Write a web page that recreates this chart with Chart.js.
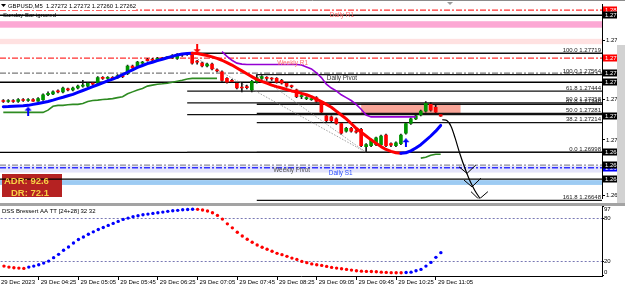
<!DOCTYPE html>
<html>
<head>
<meta charset="utf-8">
<title>GBPUSD M5</title>
<script src="https://cdn.jsdelivr.net/npm/chart.js@4.4.1/dist/chart.umd.min.js"></script>
<style>
  body { margin: 0; background: #fff; }
  #box { position: relative; width: 625px; height: 288px; overflow: hidden; background: #fff; }
  canvas { position: absolute; left: 0; }
  #main { top: 0; }
  #osc { top: 206px; }
  #split { position: absolute; left: 0; top: 203px; width: 625px; height: 3px; background: #a3a3a3; }
</style>
</head>
<body>
<div id="box">
  <canvas id="main" width="625" height="203"></canvas>
  <div id="split"></div>
  <canvas id="osc" width="625" height="82"></canvas>
</div>
<script>
// GBPUSD M5, 29 Dec 2023 - bars 03:50 .. 11:10 (bar index 0..88)
const barOpen = [
  1.27375, 1.27368, 1.27375, 1.27368, 1.27382, 1.27375, 1.27382, 1.27371, 1.27382, 1.27417,
  1.27424, 1.27445, 1.27438, 1.27459, 1.27452, 1.27466, 1.27480, 1.27480, 1.27501, 1.27501,
  1.27542, 1.27536, 1.27542, 1.27542, 1.27556, 1.27570, 1.27626, 1.27619, 1.27647, 1.27675,
  1.27675, 1.27668, 1.27682, 1.27686, 1.27689, 1.27682, 1.27710, 1.27710, 1.27710, 1.27661,
  1.27647, 1.27626, 1.27640, 1.27598, 1.27584, 1.27536, 1.27522, 1.27501, 1.27473, 1.27473,
  1.27452, 1.27508, 1.27536, 1.27542, 1.27536, 1.27536, 1.27522, 1.27501, 1.27480, 1.27452,
  1.27403, 1.27389, 1.27382, 1.27396, 1.27361, 1.27263, 1.27256, 1.27242, 1.27208, 1.27152,
  1.27173, 1.27152, 1.27166, 1.27040, 1.27047, 1.27054, 1.27054, 1.27124, 1.27061, 1.27047,
  1.27061, 1.27138, 1.27208, 1.27242, 1.27270, 1.27298, 1.27347, 1.27326, 1.27272
];
const barHigh = [
  1.27382, 1.27382, 1.27382, 1.27389, 1.27389, 1.27389, 1.27389, 1.27396, 1.27424, 1.27438,
  1.27445, 1.27452, 1.27473, 1.27466, 1.27473, 1.27487, 1.27522, 1.27508, 1.27508, 1.27549,
  1.27549, 1.27549, 1.27549, 1.27563, 1.27570, 1.27633, 1.27633, 1.27661, 1.27661, 1.27682,
  1.27682, 1.27689, 1.27689, 1.27696, 1.27710, 1.27717, 1.27717, 1.27719, 1.27717, 1.27668,
  1.27654, 1.27647, 1.27647, 1.27605, 1.27591, 1.27542, 1.27529, 1.27508, 1.27501, 1.27487,
  1.27522, 1.27564, 1.27556, 1.27549, 1.27542, 1.27542, 1.27529, 1.27508, 1.27487, 1.27459,
  1.27424, 1.27403, 1.27389, 1.27403, 1.27368, 1.27270, 1.27263, 1.27249, 1.27215, 1.27180,
  1.27180, 1.27166, 1.27173, 1.27061, 1.27096, 1.27110, 1.27124, 1.27131, 1.27068, 1.27075,
  1.27131, 1.27215, 1.27249, 1.27270, 1.27305, 1.27368, 1.27361, 1.27340, 1.27272
];
const barLow = [
  1.27361, 1.27361, 1.27361, 1.27361, 1.27368, 1.27368, 1.27368, 1.27368, 1.27375, 1.27410,
  1.27417, 1.27431, 1.27431, 1.27445, 1.27445, 1.27459, 1.27473, 1.27473, 1.27487, 1.27494,
  1.27529, 1.27529, 1.27529, 1.27536, 1.27542, 1.27563, 1.27605, 1.27612, 1.27640, 1.27661,
  1.27661, 1.27661, 1.27675, 1.27682, 1.27682, 1.27675, 1.27696, 1.27703, 1.27640, 1.27640,
  1.27619, 1.27619, 1.27598, 1.27584, 1.27515, 1.27501, 1.27508, 1.27459, 1.27438, 1.27459,
  1.27438, 1.27501, 1.27529, 1.27522, 1.27522, 1.27501, 1.27494, 1.27473, 1.27466, 1.27396,
  1.27389, 1.27382, 1.27375, 1.27361, 1.27284, 1.27221, 1.27221, 1.27201, 1.27131, 1.27145,
  1.27145, 1.27138, 1.27040, 1.26998, 1.27040, 1.27047, 1.27047, 1.27040, 1.27040, 1.27040,
  1.27054, 1.27131, 1.27201, 1.27235, 1.27263, 1.27291, 1.27298, 1.27284, 1.27260
];
const barClose = [
  1.27368, 1.27375, 1.27368, 1.27382, 1.27375, 1.27382, 1.27371, 1.27389, 1.27417, 1.27428,
  1.27438, 1.27438, 1.27466, 1.27452, 1.27466, 1.27480, 1.27487, 1.27501, 1.27494, 1.27542,
  1.27536, 1.27542, 1.27536, 1.27556, 1.27549, 1.27626, 1.27612, 1.27654, 1.27654, 1.27665,
  1.27668, 1.27682, 1.27678, 1.27689, 1.27703, 1.27710, 1.27706, 1.27713, 1.27647, 1.27654,
  1.27626, 1.27640, 1.27605, 1.27591, 1.27522, 1.27508, 1.27515, 1.27466, 1.27466, 1.27469,
  1.27515, 1.27542, 1.27549, 1.27536, 1.27532, 1.27508, 1.27501, 1.27480, 1.27476, 1.27403,
  1.27410, 1.27396, 1.27382, 1.27368, 1.27291, 1.27228, 1.27228, 1.27208, 1.27138, 1.27173,
  1.27152, 1.27145, 1.27047, 1.27054, 1.27089, 1.27103, 1.27117, 1.27047, 1.27050, 1.27068,
  1.27124, 1.27208, 1.27242, 1.27263, 1.27298, 1.27354, 1.27305, 1.27291, 1.27262
];

// trend line: blue while rising, red while falling
const trendLine = [
  1.27330, 1.27331, 1.27333, 1.27335, 1.27337, 1.27340, 1.27347, 1.27354, 1.27361, 1.27368,
  1.27378, 1.27389, 1.27399, 1.27410, 1.27420, 1.27434, 1.27448, 1.27462, 1.27476, 1.27490,
  1.27504, 1.27518, 1.27531, 1.27546, 1.27563, 1.27581, 1.27598, 1.27616, 1.27630, 1.27644,
  1.27654, 1.27665, 1.27675, 1.27686, 1.27696, 1.27707, 1.27714, 1.27717, 1.27719, 1.27717,
  1.27710, 1.27703, 1.27693, 1.27682, 1.27668, 1.27651, 1.27633, 1.27612, 1.27591, 1.27570,
  1.27549, 1.27529, 1.27515, 1.27501, 1.27487, 1.27476, 1.27466, 1.27455, 1.27445, 1.27438,
  1.27427, 1.27417, 1.27403, 1.27385, 1.27368, 1.27347, 1.27326, 1.27298, 1.27270, 1.27242,
  1.27208, 1.27173, 1.27145, 1.27117, 1.27089, 1.27064, 1.27040, 1.27019, 1.27005, 1.26995,
  1.26991, 1.26995, 1.27009, 1.27030, 1.27054, 1.27085, 1.27117, 1.27152, 1.27194
];
// green trailing stop
const trailLine = [
  1.27289, 1.27289, 1.27289, 1.27289, 1.27289, 1.27289, 1.27289, 1.27289, 1.27289, 1.27305,
  1.27333, 1.27340, 1.27340, 1.27344, 1.27347, 1.27347, 1.27354, 1.27368, 1.27375, 1.27378,
  1.27382, 1.27385, 1.27389, 1.27396, 1.27403, 1.27424, 1.27438, 1.27452, 1.27462, 1.27480,
  1.27487, 1.27494, 1.27497, 1.27501, 1.27508, 1.27515, 1.27522, 1.27532, 1.27536, 1.27536,
  1.27536, 1.27536, 1.27536, 1.27536, null, null, null, null, null, null,
  null, null, null, null, null, null, null, null, null, null,
  null, null, null, null, null, null, null, null, null, null,
  null, null, null, null, null, null, null, null, null, null,
  null, null, null, null, 1.26956, 1.26963, 1.26977, 1.26984, 1.26984
];
// purple line
const purpleLine = [
  null, null, null, null, null, null, null, null, null, null,
  null, null, null, null, null, null, null, null, null, null,
  null, null, null, null, null, null, null, null, null, null,
  null, null, null, null, null, null, null, null, null, null,
  null, null, null, null, 1.27731, 1.27696, 1.27668, 1.27647, 1.27640, 1.27637,
  1.27637, 1.27637, 1.27637, 1.27637, 1.27637, 1.27637, 1.27637, 1.27637, 1.27637, 1.27637,
  1.27633, 1.27619, 1.27605, 1.27577, 1.27542, 1.27494, 1.27466, 1.27445, 1.27417, 1.27396,
  1.27375, 1.27347, 1.27312, 1.27270, 1.27256, 1.27256, 1.27256, 1.27256, 1.27256, 1.27256,
  1.27256, 1.27256, 1.27256, 1.27256, null, null, null, null, null
];

// DSS Bressert oscillator
const dssValues = [
  13.4, 12.0, 11.1, 10.6, 10.2, 12.0, 13.4, 15.4, 17.6, 20.4,
  25.2, 29.8, 35.5, 40.1, 45.7, 50.5, 54.1, 57.9, 61.2, 64.5,
  67.3, 70.2, 73.0, 75.8, 78.6, 80.4, 82.2, 83.6, 85.1, 86.0,
  87.0, 87.9, 88.8, 89.8, 90.7, 91.2, 92.1, 92.5, 92.7, 92.6,
  91.7, 90.3, 87.9, 84.2, 79.0, 72.4, 66.8, 60.7, 55.5, 50.9,
  46.7, 42.9, 39.7, 36.9, 34.1, 31.2, 29.4, 27.0, 24.6, 22.8,
  20.0, 18.2, 16.5, 15.4, 14.4, 13.0, 11.6, 10.6, 9.7, 8.8,
  7.8, 6.9, 6.4, 6.0, 5.8, 5.5, 5.0, 4.6, 4.3, 4.2,
  4.1, 4.5, 5.0, 6.9, 8.8, 13.4, 18.6, 25.6, 32.2
];
const dssLevels = [80, 20];
const dssAxisTicks = [97, 80, 20, 0];

// time axis (every 8 bars)
const timeTickBars = [-1, 7, 15, 23, 31, 39, 47, 55, 63, 71, 79, 87];
const timeTickLabels = ['29 Dec 2023', '29 Dec 04:25', '29 Dec 05:05', '29 Dec 05:45', '29 Dec 06:25',
  '29 Dec 07:05', '29 Dec 07:45', '29 Dec 08:25', '29 Dec 09:05', '29 Dec 09:45', '29 Dec 10:25', '29 Dec 11:05'];

// price axis
const priceTicks = [1.27815, 1.27386, 1.27089, 1.26684];

// pivots and horizontal objects
const pivotNames = ['Daily R1', 'Weekly R1', 'Daily Pivot', 'Weekly Pivot', 'Daily S1'];
const pivotPrices = [1.28033, 1.27684, 1.27575, 1.26905, 1.26886];
const plainLevels = [1.27996, 1.27508, 1.26998, 1.26803];
const bandTops = [1.27952, 1.27824, 1.26900, 1.26796];
const bandBottoms = [1.27905, 1.27785, 1.26851, 1.26761];
const zoneBars = [72, 92];
const zonePrices = [1.27354, 1.27284];

// fibonacci retracements (from high bar to low bar 73)
const fibHighBars = [37, 51];
const fibLowBar = 73;
const fib1Levels = ['100.0', '61.8', '50.0', '38.2', '0.0'];
const fib1Prices = [1.27719, 1.27444, 1.27358, 1.27273, 1.26998];
const fib2Levels = ['100.0', '61.8', '50.0', '38.2', '0.0', '161.8'];
const fib2Prices = [1.27564, 1.27348, 1.27281, 1.27214, 1.26998, 1.26648];

// signal arrows
const buyArrowBars = [5, 81];
const buyArrowPrices = [1.27298, 1.27068];
const sellArrowBars = [39];
const sellArrowPrices = [1.27752];

// hand drawn projection arrow
const sketchBars = [88.3, 89.3, 90.1, 90.9, 91.9, 92.9, 93.9, 94.9, 95.9];
const sketchPrices = [1.27235, 1.27228, 1.27187, 1.27103, 1.26984, 1.26880, 1.26789, 1.26719, 1.26663];
const headBars = [[91.7, 93.3, 95.1], [92.7, 94.3, 96.1], [94.1, 95.7, 97.5]];
const headPrices = [[1.26893, 1.26845, 1.26907], [1.26796, 1.26747, 1.26810], [1.26712, 1.26656, 1.26712]];

const titleText = 'GBPUSD,M5  1.27272 1.27272 1.27260 1.27262';
const adrLines = ['ADR: 92.6', 'DR: 72.1'];

// ---- styles ----
const FONT = '"Liberation Sans", Arial, sans-serif';
const X_MIN = -0.664, X_MAX = 120.46;
const pivotStyle = {
  color: ['#ff3030', '#ff3030', '#7a7a7a', '#8a8a9a', '#3030ff'],
  text: ['#ff6a6a', '#ff6a6a', '#333333', '#555555', '#2a4cff'],
  labelBar: [65.7, 55.1, 65.1, 54.3, 65.5]
};
const bandColors = ['#fca8d4', '#ffe1e1', '#e4e4fb', '#9dcbf3'];
const boxLabels = [
  [1.28033, '#ff0000'], [1.27996, '#000000'], [1.27684, '#ff0000'], [1.27575, '#000000'],
  [1.27508, '#000000'], [1.27262, '#000000'], [1.26998, '#000000'], [1.26886, '#0000ff'],
  [1.26905, '#000000'], [1.26803, '#000000']
];

const pts = (xs, ys) => xs.map((x, i) => ({ x: x, y: ys[i] }));
const series = arr => arr.map((v, i) => ({ x: i, y: v }));

function arrowImage(color, up) {
  const c = document.createElement('canvas');
  c.width = 8; c.height = 9;
  const g = c.getContext('2d');
  g.fillStyle = color;
  g.beginPath();
  if (up) {
    g.moveTo(4, 0); g.lineTo(7.5, 4); g.lineTo(0.5, 4);
    g.fill(); g.fillRect(3, 4, 2, 5);
  } else {
    g.moveTo(4, 9); g.lineTo(7.5, 5); g.lineTo(0.5, 5);
    g.fill(); g.fillRect(3, 0, 2, 5);
  }
  return c;
}

function hLine(ctx, x1, x2, y, color, width, dash) {
  ctx.save();
  ctx.strokeStyle = color;
  ctx.lineWidth = width;
  ctx.setLineDash(dash || []);
  ctx.beginPath();
  ctx.moveTo(x1, y);
  ctx.lineTo(x2, y);
  ctx.stroke();
  ctx.restore();
}

const mainDecor = {
  id: 'mainDecor',
  beforeDatasetsDraw(chart) {
    const { ctx, chartArea: a, scales: { x, y } } = chart;
    ctx.save();
    bandTops.forEach((t, i) => {
      const y1 = y.getPixelForValue(t), y2 = y.getPixelForValue(bandBottoms[i]);
      ctx.fillStyle = bandColors[i];
      ctx.fillRect(a.left, y1, a.right - a.left, y2 - y1);
    });
    const zx1 = x.getPixelForValue(zoneBars[0]), zx2 = x.getPixelForValue(zoneBars[1]);
    const zy1 = y.getPixelForValue(zonePrices[0]), zy2 = y.getPixelForValue(zonePrices[1]);
    ctx.fillStyle = '#f9a598';
    ctx.fillRect(zx1, zy1, zx2 - zx1, zy2 - zy1);

    // ADR panel
    ctx.fillStyle = '#b52222';
    ctx.fillRect(2, 174, 60, 23);

    pivotPrices.forEach((p, i) => {
      hLine(ctx, a.left, a.right, y.getPixelForValue(p), pivotStyle.color[i], 1.3, [6, 2, 2, 2]);
    });
    plainLevels.forEach(p => hLine(ctx, a.left, a.right, y.getPixelForValue(p), '#000', 1.4));
    fib1Prices.forEach(p => hLine(ctx, x.getPixelForValue(fibHighBars[0]), a.right, y.getPixelForValue(p), '#111', 1.3));
    fib2Prices.forEach(p => hLine(ctx, x.getPixelForValue(fibHighBars[1]), a.right, y.getPixelForValue(p), '#111', 1.3));
    ctx.restore();
  },
  afterDatasetsDraw(chart) {
    const { ctx, chartArea: a, scales: { x, y } } = chart;
    ctx.save();
    ctx.font = '6px ' + FONT;
    ctx.textAlign = 'right';
    ctx.textBaseline = 'alphabetic';
    ctx.fillStyle = '#222';
    const fib1Shown = [true, true, true, false, false];
    fib1Prices.forEach((p, i) => {
      if (fib1Shown[i]) ctx.fillText(fib1Levels[i] + ' ' + p.toFixed(5), a.right - 1, y.getPixelForValue(p) - 1.5);
    });
    fib2Prices.forEach((p, i) => {
      ctx.fillText(fib2Levels[i] + ' ' + p.toFixed(5), a.right - 1, y.getPixelForValue(p) - 1.5);
    });

    ctx.font = '6.4px ' + FONT;
    ctx.textAlign = 'left';
    ctx.textBaseline = 'middle';
    pivotPrices.forEach((p, i) => {
      ctx.fillStyle = pivotStyle.text[i];
      ctx.fillText(pivotNames[i], x.getPixelForValue(pivotStyle.labelBar[i]), y.getPixelForValue(p) + 5);
    });

    ctx.fillStyle = '#000';
    ctx.font = '6px ' + FONT;
    ctx.fillText('Sunday Bar ignored', 3, 15);

    ctx.font = 'bold 9.5px ' + FONT;
    ctx.fillStyle = '#f7cf45';
    ctx.fillText(adrLines[0], 4, 181.5);
    ctx.fillText(adrLines[1], 11, 193);

    // title strip
    ctx.fillStyle = '#fff';
    ctx.fillRect(0, 1, 136, 9);
    ctx.fillStyle = '#000';
    ctx.beginPath();
    ctx.moveTo(1, 4); ctx.lineTo(6, 4); ctx.lineTo(3.5, 7); ctx.fill();
    ctx.font = '5.9px ' + FONT;
    ctx.fillText(titleText, 8, 6);

    // chart shift marker
    ctx.fillStyle = '#9a9a9a';
    ctx.beginPath();
    ctx.moveTo(447, 2); ctx.lineTo(453, 2); ctx.lineTo(450, 5); ctx.fill();
    ctx.restore();
  },
  afterDraw(chart) {
    const { ctx, chartArea: a, scales: { y } } = chart;
    ctx.save();
    ctx.font = '6px ' + FONT;
    ctx.textAlign = 'left';
    ctx.textBaseline = 'middle';
    boxLabels.forEach(([p, c]) => {
      const yy = Math.round(y.getPixelForValue(p));
      ctx.fillStyle = c;
      ctx.fillRect(a.right + 1, yy - 3.5, 16, 7);
      ctx.fillStyle = '#fff';
      ctx.fillText(p.toFixed(5), a.right + 3, yy + 0.5);
    });
    ctx.fillStyle = '#fff';
    ctx.fillRect(617, 0, 8, 203);
    ctx.fillStyle = '#d2d2d2';
    ctx.fillRect(617, 45, 8, 158);
    hLine(ctx, 0, 625, 0.5, '#8c8c8c', 1);
    ctx.restore();
  }
};

const mainChart = new Chart(document.getElementById('main'), {
  type: 'line',
  data: {
    datasets: [
      { data: pts(buyArrowBars, buyArrowPrices), showLine: false, pointStyle: arrowImage('#0000ff', true), pointRadius: 5 },
      { data: pts(sellArrowBars, sellArrowPrices), showLine: false, pointStyle: arrowImage('#ff0000', false), pointRadius: 5 },
      { data: pts(sketchBars, sketchPrices), borderColor: '#000', borderWidth: 1.2, pointRadius: 0, tension: 0.3 },
      { data: pts(headBars[0], headPrices[0]), borderColor: '#000', borderWidth: 1, pointRadius: 0 },
      { data: pts(headBars[1], headPrices[1]), borderColor: '#000', borderWidth: 1, pointRadius: 0 },
      { data: pts(headBars[2], headPrices[2]), borderColor: '#000', borderWidth: 1, pointRadius: 0 },
      {
        data: series(trendLine), borderWidth: 3, pointRadius: 0, borderCapStyle: 'round', borderJoinStyle: 'round',
        segment: { borderColor: c => c.p1.parsed.y >= c.p0.parsed.y ? '#0000ff' : '#ff0000' }
      },
      { data: series(purpleLine), borderColor: '#9400d3', borderWidth: 1.6, pointRadius: 0 },
      { data: series(trailLine), borderColor: '#2e8b22', borderWidth: 1.6, pointRadius: 0 },
      {
        type: 'bar', grouped: false, barThickness: 3, minBarLength: 1, borderWidth: 0,
        data: barOpen.map((o, i) => ({ x: i, y: [o, barClose[i]] })),
        backgroundColor: barOpen.map((o, i) => barClose[i] >= o ? '#009400' : '#ff0000')
      },
      {
        type: 'bar', grouped: false, barThickness: 1, borderWidth: 0,
        data: barLow.map((l, i) => ({ x: i, y: [l, barHigh[i]] })),
        backgroundColor: '#1a1a1a'
      },
      { data: pts([fibHighBars[0], fibLowBar], [fib1Prices[0], fib1Prices[4]]), borderColor: '#8a8a8a', borderWidth: 0.8, borderDash: [1.5, 1.5], pointRadius: 0 },
      { data: pts([fibHighBars[1], fibLowBar], [fib2Prices[0], fib2Prices[4]]), borderColor: '#8a8a8a', borderWidth: 0.8, borderDash: [1.5, 1.5], pointRadius: 0 }
    ]
  },
  options: {
    responsive: false,
    animation: false,
    layout: { padding: { top: 1, bottom: 0, left: 0, right: 0 }, autoPadding: false },
    plugins: { legend: { display: false }, tooltip: { enabled: false } },
    scales: {
      x: { type: 'linear', min: X_MIN, max: X_MAX, offset: false, display: false },
      y: {
        position: 'right', min: 1.26663, max: 1.28073,
        afterFit: s => { s.width = 23; },
        afterBuildTicks: s => { s.ticks = priceTicks.map(v => ({ value: v })); },
        ticks: { autoSkip: false, padding: 1, color: '#000', font: { family: FONT, size: 6 }, callback: v => v.toFixed(5) },
        grid: { drawOnChartArea: false, tickLength: 3, color: '#000' },
        border: { color: '#000' }
      }
    }
  },
  plugins: [mainDecor]
});

const oscDecor = {
  id: 'oscDecor',
  beforeDatasetsDraw(chart) {
    const { ctx, chartArea: a, scales: { y } } = chart;
    dssLevels.forEach(v => hLine(ctx, a.left, a.right, Math.round(y.getPixelForValue(v)) + 0.5, '#7878b4', 1, [2, 2]));
  },
  afterDraw(chart) {
    const { ctx, chartArea: a, scales: { y } } = chart;
    ctx.save();
    ctx.font = '6px ' + FONT;
    ctx.fillStyle = '#000';
    ctx.textBaseline = 'middle';
    ctx.textAlign = 'left';
    ctx.fillText('DSS Bressert AA TT [24+28] 32 32', 2, 5);
    dssAxisTicks.forEach(v => {
      const yy = Math.min(Math.max(y.getPixelForValue(v), a.top + 3), a.bottom - 3.5);
      ctx.fillText(String(v), a.right + 2, yy);
    });
    ctx.restore();
  }
};

const oscChart = new Chart(document.getElementById('osc'), {
  type: 'line',
  data: {
    datasets: [{
      data: series(dssValues), showLine: false, pointRadius: 1.7, pointBorderWidth: 0,
      pointBackgroundColor: c => (c.dataIndex > 0 && dssValues[c.dataIndex] > dssValues[c.dataIndex - 1]) ? '#0000ff' : '#ff0000'
    }]
  },
  options: {
    responsive: false,
    animation: false,
    layout: { padding: 0, autoPadding: false },
    plugins: { legend: { display: false }, tooltip: { enabled: false } },
    scales: {
      x: {
        type: 'linear', min: X_MIN, max: X_MAX, offset: false,
        afterFit: s => { s.height = 12; },
        afterBuildTicks: s => { s.ticks = timeTickBars.map(v => ({ value: v })); },
        ticks: {
          autoSkip: false, maxRotation: 0, align: 'start', labelOffset: 2, padding: -1,
          color: '#000', font: { family: FONT, size: 6 },
          callback: (v, i) => timeTickLabels[i]
        },
        grid: { drawOnChartArea: false, tickLength: 4, color: '#000' },
        border: { color: '#000' }
      },
      y: {
        position: 'right', min: -0.4, max: 97.3,
        afterFit: s => { s.width = 23; },
        afterBuildTicks: s => { s.ticks = dssAxisTicks.map(v => ({ value: v })); },
        ticks: { display: false },
        grid: { drawOnChartArea: false, tickLength: 2, color: '#000' },
        border: { color: '#000' }
      }
    }
  },
  plugins: [oscDecor]
});
</script>
</body>
</html>
